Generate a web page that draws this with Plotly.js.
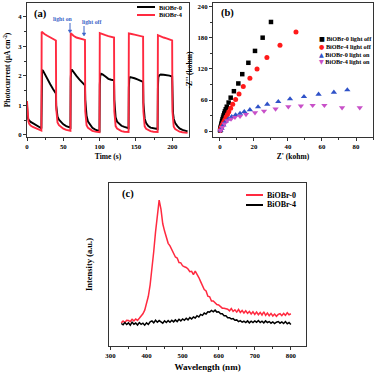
<!DOCTYPE html>
<html><head><meta charset="utf-8">
<script src="https://cdn.plot.ly/plotly-3.0.1.min.js"></script>
<style>html,body{margin:0;padding:0;background:#fff}#c{width:375px;height:377px}</style>
</head><body><div id="c"></div>
<script>
// Panel (a): photocurrent
var timeA = [0,0.5,1,2,3,5,8,12,16,19.8,
20.2,21,24,28,32,36,39.8,
40.2,41,42,44,47,50,54,58,59.8,
60.2,61,64,68,72,76,79.8,
80.2,81,82,84,87,90,94,98,99.8,
100.2,101,104,108,112,116,119.8,
120.2,121,122,124,127,130,134,138,139.8,
140.2,141,144,148,152,156,159.8,
160.2,161,162,164,167,170,174,178,179.8,
180.2,181,184,188,192,196,199.8,
200.2,201,202,204,207,210,214,218,221];
var photoB4 = [1.15,0.8,0.6,0.45,0.38,0.32,0.27,0.22,0.18,0.15,
3.5,3.48,3.42,3.36,3.3,3.24,3.2,
0.9,0.55,0.42,0.33,0.26,0.21,0.17,0.15,0.14,
3.45,3.43,3.36,3.3,3.27,3.24,3.22,
0.8,0.45,0.33,0.24,0.18,0.14,0.11,0.09,0.09,
3.45,3.44,3.41,3.38,3.35,3.32,3.3,
0.8,0.42,0.3,0.22,0.16,0.13,0.11,0.1,0.1,
3.44,3.44,3.42,3.4,3.38,3.36,3.33,
0.8,0.4,0.29,0.21,0.16,0.13,0.11,0.1,0.1,
3.38,3.37,3.33,3.3,3.27,3.24,3.2,
0.8,0.4,0.28,0.2,0.14,0.11,0.09,0.08,0.07];
var timeA0 = [0,0.5,1,2,3,5,8,12,16,18,19.8,
20.2,20.8,22,24,28,32,36,39.8,
40.2,41,42,44,47,50,54,58,59.8,
60.2,60.8,62,64,68,72,76,79.8,
80.2,81,82,84,87,90,94,98,99.8,
100.2,100.8,102,104,108,112,116,119.8,
120.2,121,122,124,127,130,134,138,139.8,
140.2,140.8,142,144,148,152,156,159.8,
160.2,161,162,164,167,170,174,178,179.8,
180.2,180.8,182,184,188,192,196,199.8,
200.2,201,202,204,207,210,214,218,221];
var photoB0 = [1.0,0.75,0.6,0.52,0.48,0.44,0.4,0.35,0.3,0.25,0.22,
1.8,2.2,2.18,2.08,1.9,1.72,1.55,1.4,
1.0,0.75,0.62,0.52,0.42,0.36,0.3,0.26,0.25,
1.9,2.2,2.2,2.12,2.0,1.88,1.78,1.68,
1.2,0.85,0.65,0.45,0.32,0.24,0.18,0.15,0.13,
1.7,2.0,2.07,2.05,1.98,1.9,1.87,1.85,
1.2,0.8,0.6,0.45,0.37,0.31,0.27,0.24,0.23,
1.6,1.9,1.96,1.95,1.92,1.88,1.83,1.8,
1.1,0.75,0.55,0.4,0.3,0.25,0.22,0.2,0.2,
1.6,1.95,2.02,2.05,2.04,2.03,2.01,1.98,
1.2,0.75,0.55,0.4,0.3,0.22,0.17,0.14,0.12];

// Panel (b): Nyquist
var zre_b0off = [0.1,0.2,0.3,0.45,0.6,0.8,1.0,1.25,1.5,1.8,2.1,2.5,2.9,3.4,4.0,5.1,6.3,8.2,10.8,13.1,16.7,20.6,25.1,30.0];
var zim_b0off = [1,2.5,4.5,7,9.5,12.5,15.5,19,22.5,26,30,34,38,42,47,55,64.5,77,92,110,132,155,180.6,211];
var zre_b4off = [0.2,0.4,0.7,1.0,1.4,1.8,2.3,2.9,3.6,4.4,5.2,6.3,7.5,9.2,11.2,13.7,17.6,21.8,27.6,35.3,44.7];
var zim_b4off = [1.5,3.5,6,8.5,11.5,14.5,18,22,27,32,37.5,44,51.7,61,71.6,86,102,120,142,166,191.6];
var zre_b0on = [0.3,1.0,2.0,3.3,4.9,6.9,9.2,11.8,14.3,17.6,22.4,27.8,34.3,41.2,49.4,58,67,74.9];
var zim_b0on = [1,5,11.6,18,23,27.7,31,34,37.4,41,46.5,51.6,56.7,62,66.4,71,75,79.4];
var zre_b4on = [0.4,1.3,2.6,4.3,6.5,8.8,11.8,15.3,20.6,25.9,32.7,40.2,47.6,54.5,61.4,71.8,82.2];
var zim_b4on = [1,7,14,20,23,26.5,28.5,32,35.5,38.7,42.6,47,48.4,49.7,49.7,45,45];

// Panel (c): PL spectra
var wl = [330,335,340,345,350,355,360,365,370,375,380,385,390,395,400,405,410,415,420,425,430,435,440,445,450,455,460,465,470,475,480,485,490,495,500,505,510,515,520,525,530,535,540,545,550,555,560,565,570,575,580,585,590,595,600,605,610,615,620,625,630,635,640,645,650,655,660,665,670,675,680,685,690,695,700,705,710,715,720,725,730,735,740,745,750,755,760,765,770,775,780,785,790,795,800];
var plB0 = [14.2,15.3,14.4,15.8,15.6,15.0,16.4,15.4,16.6,15.7,17.0,18.2,19.8,22.0,25.5,30.5,37.5,46.0,58.0,70.0,82.0,89.5,84.0,75.0,70.5,66.5,63.0,61.4,59.0,57.0,54.6,54.0,51.2,51.0,49.2,48.6,48.2,47.2,45.6,45.8,43.8,46.0,44.4,42.0,39.5,37.4,34.6,33.8,30.6,30.2,27.6,27.6,26.4,25.4,25.2,24.4,23.2,23.2,23.0,22.6,21.6,23.0,21.2,22.2,20.8,22.4,20.6,21.8,20.2,21.6,20.0,21.2,19.6,21.0,19.4,20.8,19.2,20.6,19.0,21.0,18.8,20.2,18.6,20.0,18.4,19.6,18.2,19.4,19.8,18.6,20.0,18.8,20.4,19.2,19.8];
var plB4 = [13.8,13.0,14.4,13.2,14.2,12.8,14.6,13.4,14.1,12.9,14.4,13.3,14.0,12.8,14.2,13.2,14.8,15.4,14.2,15.8,14.6,15.6,14.8,14.0,15.4,14.4,15.6,14.6,15.8,14.8,16.0,15.0,16.4,15.4,16.6,15.8,17.0,16.0,17.4,16.6,17.8,17.2,18.6,17.8,19.4,18.8,20.2,19.6,21.0,20.8,21.8,21.0,22.0,20.8,21.0,19.8,19.8,18.6,18.6,17.4,17.4,16.6,16.8,15.8,16.0,15.0,15.6,14.6,15.2,14.4,15.4,14.2,15.2,14.4,15.4,14.6,15.6,14.4,15.2,14.2,15.4,14.4,15.0,14.0,14.8,13.8,14.6,15.0,14.0,14.8,13.8,15.0,13.6,14.4,13.2];

var FONT = 'Liberation Serif, Times New Roman, serif';
var RED = '#ff2a40';
var W = 375, H = 377;
function px(x){return x/W;}
function py(y){return 1 - y/H;}

var traces = [
 {x: timeA0, y: photoB0, type:'scatter', mode:'lines', line:{color:'#000', width:1.9}, xaxis:'x', yaxis:'y', showlegend:false},
 {x: timeA, y: photoB4, type:'scatter', mode:'lines', line:{color:RED, width:1.9}, xaxis:'x', yaxis:'y', showlegend:false},
 {x: zre_b0off, y: zim_b0off, type:'scatter', mode:'markers', marker:{symbol:'square', size:4.5, color:'#000'}, xaxis:'x2', yaxis:'y2', showlegend:false},
 {x: zre_b4off, y: zim_b4off, type:'scatter', mode:'markers', marker:{symbol:'circle', size:5, color:'#ff1a1a'}, xaxis:'x2', yaxis:'y2', showlegend:false},
 {x: zre_b0on, y: zim_b0on, type:'scatter', mode:'markers', marker:{symbol:'triangle-up', size:5.5, color:'#2f52c8'}, xaxis:'x2', yaxis:'y2', showlegend:false},
 {x: zre_b4on, y: zim_b4on, type:'scatter', mode:'markers', marker:{symbol:'triangle-down', size:5.5, color:'#c850c8'}, xaxis:'x2', yaxis:'y2', showlegend:false},
 {x: wl, y: plB0, type:'scatter', mode:'lines', line:{color:RED, width:1.5}, xaxis:'x3', yaxis:'y3', showlegend:false},
 {x: wl, y: plB4, type:'scatter', mode:'lines', line:{color:'#000', width:1.5}, xaxis:'x3', yaxis:'y3', showlegend:false}
];

var tickf = {family:FONT, size:6.8, color:'#000', weight:700};
function ax(opts){
  return Object.assign({showline:true, mirror:true, linecolor:'#333', linewidth:1, ticks:'outside', ticklen:3, tickwidth:1, tickcolor:'#333', tickfont:tickf, showgrid:false, zeroline:false, fixedrange:true}, opts);
}
var titf = {family:FONT, size:7.5, color:'#000', weight:700};

var BLUE = '#3c64c8';
function arrowPath(x, y0, y1){
  return 'M'+px(x)+','+py(y0)+' L'+px(x)+','+py(y1-2);
}
function headPath(x, y1){
  return 'M'+px(x-1.8)+','+py(y1-3)+' L'+px(x+1.8)+','+py(y1-3)+' L'+px(x)+','+py(y1)+' Z';
}

var layout = {
  width:W, height:H, margin:{l:0,r:0,t:0,b:0}, paper_bgcolor:'#fff', plot_bgcolor:'#fff', showlegend:false,
  xaxis: ax({domain:[px(27),px(189)], range:[0,223], tickvals:[0,50,100,150,200], minor:{dtick:25, ticklen:2, ticks:'outside', tickcolor:'#333'}, anchor:'y', title:{text:'Time (s)', font:titf, standoff:4}}),
  yaxis: ax({domain:[py(137),py(3)], range:[-0.07,4.47], tickvals:[0,1,2,3,4], minor:{dtick:0.5, ticklen:2, ticks:'outside', tickcolor:'#333'}, anchor:'x', title:{text:'Photocurrent (μA cm<sup>-2</sup>)', font:titf, standoff:6}}),
  xaxis2: ax({domain:[px(213),px(373)], range:[-4.1,90], tickvals:[0,20,40,60,80], minor:{dtick:10, ticklen:2, ticks:'outside', tickcolor:'#333'}, anchor:'y2', title:{text:"Z' (kohm)", font:titf, standoff:4}}),
  yaxis2: ax({domain:[py(137),py(3)], range:[-11.6,247.7], tickvals:[0,60,120,180,240], minor:{dtick:30, ticklen:2, ticks:'outside', tickcolor:'#333'}, anchor:'x2', title:{text:"-Z'' (kohm)", font:titf, standoff:3}}),
  xaxis3: ax({domain:[px(109),px(306)], range:[296,842], tickvals:[300,400,500,600,700,800], minor:{dtick:50, ticklen:2, ticks:'outside', tickcolor:'#333'}, anchor:'y3', title:{text:'Wavelength (nm)', font:{family:FONT, size:9, color:'#000', weight:700}, standoff:5}}),
  yaxis3: ax({domain:[py(346),py(183)], range:[0,100], ticks:'', showticklabels:false, anchor:'x3', title:{text:'Intensity (a.u.)', font:{family:FONT, size:8.5, color:'#000', weight:700}, standoff:14}}),
  shapes: [
    {type:'line', xref:'paper', yref:'paper', x0:px(137), x1:px(155), y0:py(7), y1:py(7), line:{color:'#000', width:2}},
    {type:'line', xref:'paper', yref:'paper', x0:px(137), x1:px(155), y0:py(15), y1:py(15), line:{color:RED, width:2}},
    {type:'line', xref:'paper', yref:'paper', x0:px(246), x1:px(263), y0:py(195), y1:py(195), line:{color:RED, width:2}},
    {type:'line', xref:'paper', yref:'paper', x0:px(246), x1:px(263), y0:py(205), y1:py(205), line:{color:'#000', width:2}},
    {type:'path', xref:'paper', yref:'paper', path:arrowPath(70,23,33), line:{color:BLUE, width:1}},
    {type:'path', xref:'paper', yref:'paper', path:headPath(70,33), fillcolor:BLUE, line:{color:BLUE, width:0.5}},
    {type:'path', xref:'paper', yref:'paper', path:arrowPath(84,26,36), line:{color:BLUE, width:1}},
    {type:'path', xref:'paper', yref:'paper', path:headPath(84,36), fillcolor:BLUE, line:{color:BLUE, width:0.5}}
  ],
  annotations: []
};
var A = layout.annotations;
function lab(text, x, y, size, color, anchor){
  A.push({text:text, xref:'paper', yref:'paper', x:px(x), y:py(y), xanchor:anchor||'left', yanchor:'middle', showarrow:false, font:{family:FONT, size:size, color:color||'#000', weight:700}});
}
lab('(a)', 32, 14, 10.5);
lab('(b)', 219, 13, 10.5);
lab('(c)', 120, 194, 10.5);
lab('BiOBr-0', 157, 7, 6.3);
lab('BiOBr-4', 157, 15, 6.3);
lab('BiOBr-0', 265, 195, 8);
lab('BiOBr-4', 265, 205, 8);
var legB = [['■','#000','BiOBr-0 light off'],['●','#ff1a1a','BiOBr-4 light off'],['▲','#2f52c8','BiOBr-0 light on'],['▼','#c850c8','BiOBr-4 light on']];
legB.forEach(function(r,i){
  lab('<span style="color:'+r[1]+';font-family:DejaVu Sans">'+r[0]+'</span> '+r[2], 317, 39+i*7.6, 6.2);
});
lab('light on', 63, 19, 5.8, BLUE, 'center');
lab('light off', 92, 22, 5.8, BLUE, 'center');

Plotly.newPlot('c', traces, layout, {staticPlot:true, displayModeBar:false});
</script></body></html>
